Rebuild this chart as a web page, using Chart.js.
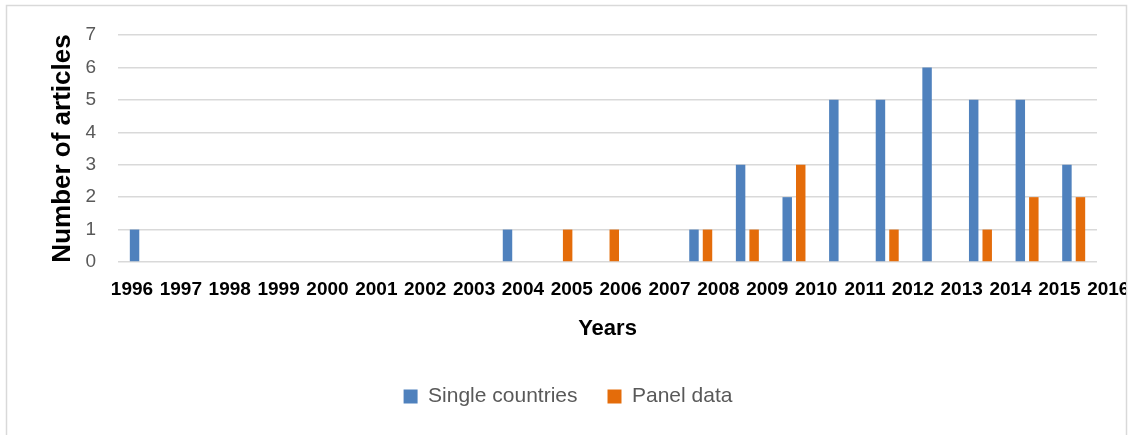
<!DOCTYPE html>
<html>
  <head>
    <script src="https://cdn.jsdelivr.net/npm/chart.js@4"></script>
    <style>
      body { margin: 0; background: #fff; }
    </style>
  </head>

  <body>
    <canvas id="canvas" width="1133" height="435"></canvas>
    <script>
      const years = ['1996', '1997', '1998', '1999', '2000', '2001', '2002', '2003', '2004', '2005', '2006',
        '2007', '2008', '2009', '2010', '2011', '2012', '2013', '2014', '2015', '2016'];
      const singleCountries = [1, 0, 0, 0, 0, 0, 0, 0, 1, 0, 0, 0, 1, 3, 2, 5, 5, 6, 5, 5, 3];
      const panelData = [0, 0, 0, 0, 0, 0, 0, 0, 0, 1, 1, 0, 1, 1, 3, 0, 1, 0, 1, 2, 2];
      const yTicks = [0, 1, 2, 3, 4, 5, 6, 7];

      // white background + thin grey frame like the Excel chart area
      const frame = {
        id: 'frame',
        beforeDraw(chart) {
          const ctx = chart.ctx;
          ctx.save();
          ctx.fillStyle = '#fff';
          ctx.fillRect(0, 0, chart.width, chart.height);
          ctx.strokeStyle = '#d9d9d9';
          ctx.lineWidth = 1.5;
          ctx.strokeRect(6.5, 5.5, 1120, 440);
          ctx.restore();
        },
      };

      // Excel packs the bold year labels side by side, so they drift from the slots
      const yearLabels = {
        id: 'yearLabels',
        afterDraw(chart) {
          const x = chart.scales.x;
          const ctx = chart.ctx;
          const slot = x.getPixelForValue(1) - x.getPixelForValue(0);
          let cx = x.getPixelForValue(0) - 0.2 * slot;
          ctx.save();
          ctx.beginPath();
          ctx.rect(0, 0, 1126, chart.height);
          ctx.clip();
          ctx.font = 'bold 19px "Liberation Sans"';
          ctx.fillStyle = '#000';
          ctx.textAlign = 'left';
          ctx.textBaseline = 'middle';
          years.forEach((y) => {
            const w = ctx.measureText(y).width;
            ctx.fillText(y, cx - w / 2, x.top + 28);
            cx += w + 6.6;
          });
          ctx.restore();
        },
      };

      new Chart(document.getElementById('canvas'), {
        type: 'bar',
        data: {
          labels: years,
          datasets: [
            {
              label: 'Single countries',
              data: singleCountries,
              backgroundColor: '#4f81bd',
              barPercentage: 0.7,
              categoryPercentage: 0.58,
            },
            {
              label: 'Panel data',
              data: panelData,
              backgroundColor: '#e46c0a',
              barPercentage: 0.7,
              categoryPercentage: 0.58,
            },
          ],
        },
        plugins: [frame, yearLabels],
        options: {
          responsive: false,
          animation: false,
          devicePixelRatio: 1,
          layout: { padding: { left: 13, right: 10, top: 35, bottom: 18 } },
          plugins: {
            tooltip: { enabled: false },
            legend: {
              position: 'bottom',
              labels: {
                boxWidth: 14,
                boxHeight: 14,
                padding: 30,
                color: '#595959',
                font: { family: '"Liberation Sans"', size: 21 },
              },
            },
          },
          scales: {
            x: {
              grid: { display: false },
              border: { display: false },
              ticks: { display: false },
              title: {
                display: true,
                text: 'Years',
                color: '#000',
                font: { family: '"Liberation Sans"', size: 22, weight: 'bold' },
                padding: { top: 0, bottom: 14 },
              },
              afterFit(scale) { scale.height = 94; },
            },
            y: {
              min: 0,
              max: 7,
              afterBuildTicks(scale) { scale.ticks = yTicks.map((v) => ({ value: v })); },
              grid: { color: '#d9d9d9', lineWidth: 1.5, drawTicks: false },
              border: { display: false },
              ticks: {
                color: '#595959',
                padding: 22,
                font: { family: '"Liberation Sans"', size: 19 },
              },
              title: {
                display: true,
                text: 'Number of articles',
                color: '#000',
                font: { family: '"Liberation Sans"', size: 26, weight: 'bold' },
                padding: { top: 34, bottom: 0 },
              },
              afterFit(scale) { scale.width = 105; },
            },
            // empty right gutter so the plot ends where Excel's does
            gutter: {
              type: 'linear',
              position: 'right',
              display: true,
              grid: { display: false },
              border: { display: false },
              ticks: { display: false },
              afterFit(scale) { scale.width = 26; },
            },
          },
        },
      });
    </script>
  </body>
</html>
